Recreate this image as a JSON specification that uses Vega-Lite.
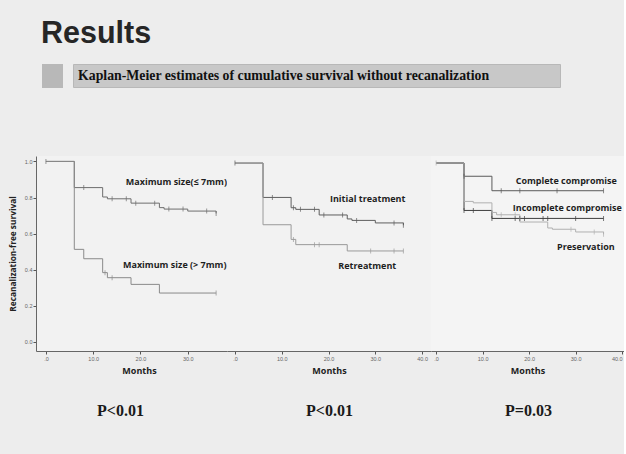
{
  "$schema": "https://vega.github.io/schema/vega-lite/v6.json",
  "background": "#ededed",
  "padding": {"left": 8, "top": 19, "right": 0, "bottom": 40},
  "title": {"text": "Results", "anchor": "start", "frame": "group", "font": "Liberation Sans", "fontSize": 30.5, "fontWeight": "bold", "color": "#262626", "offset": 9, "dx": 5},
  "config": {"view": {"stroke": null}, "axis": {"grid": false}},
  "datasets": {
    "curves": [
      {"panel": "A", "group": "le7", "t": 0, "s": 1},
      {"panel": "A", "group": "le7", "t": 6, "s": 0.855},
      {"panel": "A", "group": "le7", "t": 12, "s": 0.803},
      {"panel": "A", "group": "le7", "t": 13, "s": 0.793},
      {"panel": "A", "group": "le7", "t": 18, "s": 0.769},
      {"panel": "A", "group": "le7", "t": 24, "s": 0.744},
      {"panel": "A", "group": "le7", "t": 25, "s": 0.736},
      {"panel": "A", "group": "le7", "t": 30, "s": 0.725},
      {"panel": "A", "group": "le7", "t": 36, "s": 0.712},
      {"panel": "A", "group": "gt7", "t": 0, "s": 1},
      {"panel": "A", "group": "gt7", "t": 6, "s": 0.513},
      {"panel": "A", "group": "gt7", "t": 8, "s": 0.461},
      {"panel": "A", "group": "gt7", "t": 12, "s": 0.384},
      {"panel": "A", "group": "gt7", "t": 13, "s": 0.356},
      {"panel": "A", "group": "gt7", "t": 18, "s": 0.319},
      {"panel": "A", "group": "gt7", "t": 24, "s": 0.271},
      {"panel": "A", "group": "gt7", "t": 36, "s": 0.271},
      {"panel": "B", "group": "init", "t": 0, "s": 1},
      {"panel": "B", "group": "init", "t": 6, "s": 0.81},
      {"panel": "B", "group": "init", "t": 12, "s": 0.753},
      {"panel": "B", "group": "init", "t": 13, "s": 0.744},
      {"panel": "B", "group": "init", "t": 18, "s": 0.713},
      {"panel": "B", "group": "init", "t": 24, "s": 0.691},
      {"panel": "B", "group": "init", "t": 25, "s": 0.683},
      {"panel": "B", "group": "init", "t": 30, "s": 0.669},
      {"panel": "B", "group": "init", "t": 36, "s": 0.656},
      {"panel": "B", "group": "re", "t": 0, "s": 1},
      {"panel": "B", "group": "re", "t": 6, "s": 0.659},
      {"panel": "B", "group": "re", "t": 12, "s": 0.578},
      {"panel": "B", "group": "re", "t": 13, "s": 0.549},
      {"panel": "B", "group": "re", "t": 24, "s": 0.514},
      {"panel": "B", "group": "re", "t": 36, "s": 0.514},
      {"panel": "C", "group": "comp", "t": 0, "s": 1},
      {"panel": "C", "group": "comp", "t": 6, "s": 0.927},
      {"panel": "C", "group": "comp", "t": 12, "s": 0.847},
      {"panel": "C", "group": "comp", "t": 36, "s": 0.847},
      {"panel": "C", "group": "incomp", "t": 0, "s": 1},
      {"panel": "C", "group": "incomp", "t": 6, "s": 0.738},
      {"panel": "C", "group": "incomp", "t": 12, "s": 0.694},
      {"panel": "C", "group": "incomp", "t": 36, "s": 0.694},
      {"panel": "C", "group": "pres", "t": 0, "s": 1},
      {"panel": "C", "group": "pres", "t": 6, "s": 0.788},
      {"panel": "C", "group": "pres", "t": 8, "s": 0.78},
      {"panel": "C", "group": "pres", "t": 12, "s": 0.727},
      {"panel": "C", "group": "pres", "t": 13, "s": 0.714},
      {"panel": "C", "group": "pres", "t": 18, "s": 0.674},
      {"panel": "C", "group": "pres", "t": 24, "s": 0.641},
      {"panel": "C", "group": "pres", "t": 25, "s": 0.634},
      {"panel": "C", "group": "pres", "t": 30, "s": 0.619},
      {"panel": "C", "group": "pres", "t": 36, "s": 0.606}
    ],
    "censors": [
      {"panel": "A", "group": "le7", "t": 0, "s": 1},
      {"panel": "A", "group": "le7", "t": 8, "s": 0.855},
      {"panel": "A", "group": "le7", "t": 14, "s": 0.793},
      {"panel": "A", "group": "le7", "t": 17, "s": 0.793},
      {"panel": "A", "group": "le7", "t": 19, "s": 0.769},
      {"panel": "A", "group": "le7", "t": 23, "s": 0.769},
      {"panel": "A", "group": "le7", "t": 26, "s": 0.736},
      {"panel": "A", "group": "le7", "t": 29, "s": 0.736},
      {"panel": "A", "group": "le7", "t": 34, "s": 0.725},
      {"panel": "A", "group": "le7", "t": 36, "s": 0.712},
      {"panel": "A", "group": "gt7", "t": 12.5, "s": 0.384},
      {"panel": "A", "group": "gt7", "t": 14, "s": 0.356},
      {"panel": "A", "group": "gt7", "t": 36, "s": 0.271},
      {"panel": "B", "group": "init", "t": 0, "s": 1},
      {"panel": "B", "group": "init", "t": 8, "s": 0.81},
      {"panel": "B", "group": "init", "t": 12.5, "s": 0.753},
      {"panel": "B", "group": "init", "t": 14, "s": 0.744},
      {"panel": "B", "group": "init", "t": 17, "s": 0.744},
      {"panel": "B", "group": "init", "t": 19, "s": 0.713},
      {"panel": "B", "group": "init", "t": 23, "s": 0.713},
      {"panel": "B", "group": "init", "t": 26, "s": 0.683},
      {"panel": "B", "group": "init", "t": 34, "s": 0.669},
      {"panel": "B", "group": "init", "t": 36, "s": 0.656},
      {"panel": "B", "group": "re", "t": 12.5, "s": 0.578},
      {"panel": "B", "group": "re", "t": 17, "s": 0.549},
      {"panel": "B", "group": "re", "t": 18, "s": 0.549},
      {"panel": "B", "group": "re", "t": 29, "s": 0.514},
      {"panel": "B", "group": "re", "t": 34, "s": 0.514},
      {"panel": "B", "group": "re", "t": 36, "s": 0.514},
      {"panel": "C", "group": "pres", "t": 0, "s": 1},
      {"panel": "C", "group": "comp", "t": 6, "s": 0.927},
      {"panel": "C", "group": "comp", "t": 14, "s": 0.847},
      {"panel": "C", "group": "comp", "t": 18, "s": 0.847},
      {"panel": "C", "group": "comp", "t": 26, "s": 0.847},
      {"panel": "C", "group": "comp", "t": 36, "s": 0.847},
      {"panel": "C", "group": "incomp", "t": 6, "s": 0.738},
      {"panel": "C", "group": "incomp", "t": 8, "s": 0.738},
      {"panel": "C", "group": "incomp", "t": 12, "s": 0.694},
      {"panel": "C", "group": "incomp", "t": 17, "s": 0.694},
      {"panel": "C", "group": "incomp", "t": 18, "s": 0.694},
      {"panel": "C", "group": "incomp", "t": 19, "s": 0.694},
      {"panel": "C", "group": "incomp", "t": 23, "s": 0.694},
      {"panel": "C", "group": "incomp", "t": 24, "s": 0.694},
      {"panel": "C", "group": "incomp", "t": 30, "s": 0.694},
      {"panel": "C", "group": "incomp", "t": 36, "s": 0.694},
      {"panel": "C", "group": "pres", "t": 14, "s": 0.714},
      {"panel": "C", "group": "pres", "t": 17, "s": 0.714},
      {"panel": "C", "group": "pres", "t": 29, "s": 0.634},
      {"panel": "C", "group": "pres", "t": 34, "s": 0.619},
      {"panel": "C", "group": "pres", "t": 36, "s": 0.606}
    ],
    "labels": [
      {"panel": "A", "label": "Maximum size(≤ 7mm)", "t": 16.9, "s": 0.886},
      {"panel": "A", "label": "Maximum size (> 7mm)", "t": 16.3, "s": 0.425},
      {"panel": "B", "label": "Initial treatment", "t": 20.3, "s": 0.8},
      {"panel": "B", "label": "Retreatment", "t": 22.1, "s": 0.431},
      {"panel": "C", "label": "Complete compromise", "t": 17.1, "s": 0.901},
      {"panel": "C", "label": "Incomplete compromise", "t": 16.5, "s": 0.753},
      {"panel": "C", "label": "Preservation", "t": 26.0, "s": 0.536}
    ]
  },
  "bounds": "flush",
  "spacing": 92,
  "vconcat": [
    {
      "bounds": "flush",
      "spacing": 5,
      "hconcat": [
        {
          "width": 1, "height": 1,
          "data": {"values": [{"caption": ""}]},
          "mark": {"type": "text"},
          "encoding": {"text": {"field": "caption"}}
        },
        {
          "bounds": "flush",
          "spacing": 10,
          "hconcat": [
            {
              "width": 21, "height": 24,
              "view": {"fill": "#b8b8b8", "stroke": null},
              "data": {"values": [{"caption": ""}]},
              "mark": {"type": "text"},
              "encoding": {"text": {"field": "caption"}}
            },
            {
              "width": 487, "height": 23,
              "view": {"fill": "#c8c8c8", "stroke": "#b8b8b8"},
              "data": {"values": [{"caption": "Kaplan-Meier estimates of cumulative survival without recanalization"}]},
              "mark": {"type": "text", "align": "left", "baseline": "middle", "dx": 5, "font": "Liberation Serif", "fontSize": 13.8, "fontWeight": "bold", "color": "#111111"},
              "encoding": {
                "text": {"field": "caption"},
                "x": {"datum": 0, "type": "quantitative", "scale": {"domain": [0, 1]}, "axis": null}
              }
            }
          ]
        }
      ]
    },
    {
      "bounds": "flush",
      "spacing": 0,
      "hconcat": [
        {
          "width": 191, "height": 195,
          "view": {"fill": "#f2f2f2", "stroke": null},
          "title": {"text": "P<0.01", "orient": "bottom", "anchor": "start", "frame": "group", "dx": 61, "offset": 27, "font": "Liberation Serif", "fontSize": 16, "fontWeight": "bold", "color": "#1a1a1a"},
          "encoding": {
            "x": {"field": "t", "type": "quantitative", "scale": {"domain": [-2.1, 38.3], "nice": false, "zero": false},
              "axis": {"values": [0, 10, 20, 30], "labelExpr": "datum.value == 0 ? '.0' : format(datum.value, '.1f')", "labelFont": "Liberation Sans", "labelFontSize": 5.5, "labelColor": "#666666", "labelPadding": 2, "tickSize": 3, "tickColor": "#555555", "domainColor": "#666666", "title": "Months", "titleX": 103, "titleFont": "Open Sans", "titleFontSize": 9, "titleFontWeight": "bold", "titleColor": "#222222", "titlePadding": 5}},
            "y": {"field": "s", "type": "quantitative", "scale": {"domain": [-0.05, 1.03], "nice": false, "zero": false},
              "axis": {"values": [0, 0.2, 0.4, 0.6, 0.8, 1.0], "format": ".1f", "labelFont": "Liberation Sans", "labelFontSize": 5.5, "labelColor": "#666666", "labelPadding": 1, "tickSize": 3, "tickColor": "#555555", "domainColor": "#666666", "title": "Recanalization-free survival", "titleFont": "Open Sans", "titleFontSize": 8.3, "titleFontWeight": "bold", "titleColor": "#222222", "titlePadding": 7}}
          },
          "layer": [
            {
              "data": {"name": "curves"},
              "transform": [{"filter": "datum.panel == 'A'"}],
              "mark": {"type": "line", "interpolate": "step-after", "strokeWidth": 1},
              "encoding": {"color": {"field": "group", "type": "nominal", "legend": null, "scale": {"domain": ["le7", "gt7", "init", "re", "comp", "incomp", "pres"], "range": ["#6e6e6e", "#8a8a8a", "#5e5e5e", "#9a9a9a", "#5a5a5a", "#3e3e3e", "#b0b0b0"]}}}
            },
            {
              "data": {"name": "censors"},
              "transform": [{"filter": "datum.panel == 'A'"}],
              "mark": {"type": "tick", "orient": "vertical", "size": 5, "thickness": 1},
              "encoding": {"color": {"field": "group", "type": "nominal", "legend": null, "scale": {"domain": ["le7", "gt7", "init", "re", "comp", "incomp", "pres"], "range": ["#6e6e6e", "#8a8a8a", "#5e5e5e", "#9a9a9a", "#5a5a5a", "#3e3e3e", "#b0b0b0"]}}}
            },
            {
              "data": {"name": "labels"},
              "transform": [{"filter": "datum.panel == 'A'"}],
              "mark": {"type": "text", "align": "left", "baseline": "middle", "font": "Open Sans", "fontSize": 9, "fontWeight": "bold", "color": "#1e1e1e"},
              "encoding": {"text": {"field": "label"}}
            }
          ]
        },
        {
          "width": 204, "height": 195,
          "view": {"fill": "#f2f2f2", "stroke": null},
          "title": {"text": "P<0.01", "orient": "bottom", "anchor": "start", "frame": "group", "dx": 79, "offset": 27, "font": "Liberation Serif", "fontSize": 16, "fontWeight": "bold", "color": "#1a1a1a"},
          "encoding": {
            "x": {"field": "t", "type": "quantitative", "scale": {"domain": [-1.7, 41.9], "nice": false, "zero": false},
              "axis": {"values": [0, 10, 20, 30, 40], "labelExpr": "datum.value == 0 ? '.0' : format(datum.value, '.1f')", "labelFont": "Liberation Sans", "labelFontSize": 5.5, "labelColor": "#666666", "labelPadding": 2, "tickSize": 3, "tickColor": "#555555", "domainColor": "#666666", "title": "Months", "titleFont": "Open Sans", "titleFontSize": 9, "titleFontWeight": "bold", "titleColor": "#222222", "titlePadding": 5}},
            "y": {"field": "s", "type": "quantitative", "scale": {"domain": [-0.039, 1.039], "nice": false, "zero": false}, "axis": null}
          },
          "layer": [
            {
              "data": {"name": "curves"},
              "transform": [{"filter": "datum.panel == 'B'"}],
              "mark": {"type": "line", "interpolate": "step-after", "strokeWidth": 1},
              "encoding": {"color": {"field": "group", "type": "nominal", "legend": null, "scale": {"domain": ["le7", "gt7", "init", "re", "comp", "incomp", "pres"], "range": ["#6e6e6e", "#8a8a8a", "#5e5e5e", "#9a9a9a", "#5a5a5a", "#3e3e3e", "#b0b0b0"]}}}
            },
            {
              "data": {"name": "censors"},
              "transform": [{"filter": "datum.panel == 'B'"}],
              "mark": {"type": "tick", "orient": "vertical", "size": 5, "thickness": 1},
              "encoding": {"color": {"field": "group", "type": "nominal", "legend": null, "scale": {"domain": ["le7", "gt7", "init", "re", "comp", "incomp", "pres"], "range": ["#6e6e6e", "#8a8a8a", "#5e5e5e", "#9a9a9a", "#5a5a5a", "#3e3e3e", "#b0b0b0"]}}}
            },
            {
              "data": {"name": "labels"},
              "transform": [{"filter": "datum.panel == 'B'"}],
              "mark": {"type": "text", "align": "left", "baseline": "middle", "font": "Open Sans", "fontSize": 9, "fontWeight": "bold", "color": "#1e1e1e"},
              "encoding": {"text": {"field": "label"}}
            }
          ]
        },
        {
          "width": 193, "height": 195,
          "view": {"fill": "#f4f4f4", "stroke": null},
          "title": {"text": "P=0.03", "orient": "bottom", "anchor": "start", "frame": "group", "dx": 74, "offset": 27, "font": "Liberation Serif", "fontSize": 16, "fontWeight": "bold", "color": "#1a1a1a"},
          "encoding": {
            "x": {"field": "t", "type": "quantitative", "scale": {"domain": [-1.1, 40.4], "nice": false, "zero": false},
              "axis": {"values": [0, 10, 20, 30, 40], "labelExpr": "datum.value == 0 ? '.0' : format(datum.value, '.1f')", "labelAlign": {"expr": "datum.value == 40 ? 'right' : 'center'"}, "labelFont": "Liberation Sans", "labelFontSize": 5.5, "labelColor": "#666666", "labelPadding": 2, "tickSize": 3, "tickColor": "#555555", "domainColor": "#666666", "title": "Months", "titleFont": "Open Sans", "titleFontSize": 9, "titleFontWeight": "bold", "titleColor": "#222222", "titlePadding": 5}},
            "y": {"field": "s", "type": "quantitative", "scale": {"domain": [-0.039, 1.039], "nice": false, "zero": false}, "axis": null}
          },
          "layer": [
            {
              "data": {"name": "curves"},
              "transform": [{"filter": "datum.panel == 'C'"}],
              "mark": {"type": "line", "interpolate": "step-after", "strokeWidth": 1},
              "encoding": {"color": {"field": "group", "type": "nominal", "legend": null, "scale": {"domain": ["le7", "gt7", "init", "re", "comp", "incomp", "pres"], "range": ["#6e6e6e", "#8a8a8a", "#5e5e5e", "#9a9a9a", "#5a5a5a", "#3e3e3e", "#b0b0b0"]}}}
            },
            {
              "data": {"name": "censors"},
              "transform": [{"filter": "datum.panel == 'C'"}],
              "mark": {"type": "tick", "orient": "vertical", "size": 5, "thickness": 1},
              "encoding": {"color": {"field": "group", "type": "nominal", "legend": null, "scale": {"domain": ["le7", "gt7", "init", "re", "comp", "incomp", "pres"], "range": ["#6e6e6e", "#8a8a8a", "#5e5e5e", "#9a9a9a", "#5a5a5a", "#3e3e3e", "#b0b0b0"]}}}
            },
            {
              "data": {"name": "labels"},
              "transform": [{"filter": "datum.panel == 'C'"}],
              "mark": {"type": "text", "align": "left", "baseline": "middle", "font": "Open Sans", "fontSize": 9, "fontWeight": "bold", "color": "#1e1e1e"},
              "encoding": {"text": {"field": "label"}}
            }
          ]
        }
      ]
    }
  ]
}
